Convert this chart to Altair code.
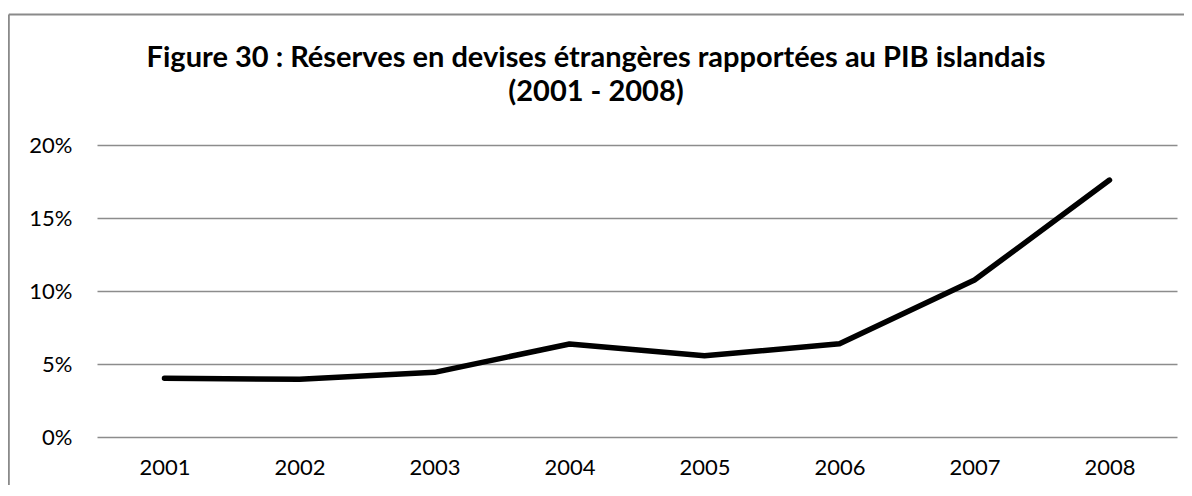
import altair as alt
import pandas as pd

years = ["2001", "2002", "2003", "2004", "2005", "2006", "2007", "2008"]
reserves = [0.0402, 0.0396, 0.0443, 0.0637, 0.0556, 0.0639, 0.1075, 0.1760]
y_ticks = [0, 0.05, 0.10, 0.15, 0.20]
title_lines = ["Figure 30 : Réserves en devises étrangères rapportées au PIB islandais", "(2001 - 2008)"]

df = pd.DataFrame({"year": years, "value": reserves})

W, H = 1080, 292
FONT = "Lato"

line = alt.Chart(df).mark_line(
    color="black", strokeWidth=5.5, strokeCap="round", strokeJoin="round"
).encode(
    x=alt.X(
        "year:O",
        scale=alt.Scale(type="point", padding=0.5),
        axis=alt.Axis(
            title=None, labelAngle=0, ticks=False, domain=False, grid=False,
            labelPadding=20, labelFontSize=22, labelColor="black", labelFont=FONT,
        ),
    ),
    y=alt.Y(
        "value:Q",
        scale=alt.Scale(domain=[0, 0.2]),
        axis=alt.Axis(
            title=None, values=y_ticks, format=".0%", ticks=False, domain=False,
            labelPadding=25, labelFontSize=22, labelColor="black", labelFont=FONT,
            grid=True, gridColor="#8c8c8c", gridWidth=1.5,
        ),
    ),
)

one = pd.DataFrame({"a": [0]})
left_border = alt.Chart(one).mark_rule(color="#8a8a8a", strokeWidth=2).encode(
    x=alt.value(-88.2), y=alt.value(-130.5), y2=alt.value(H + 48)
)
top_border = alt.Chart(one).mark_rule(color="#8a8a8a", strokeWidth=2).encode(
    x=alt.value(-88.2), x2=alt.value(W + 7), y=alt.value(-130.5)
)

title1 = alt.Chart(pd.DataFrame({"text": [title_lines[0]]})).mark_text(
    font=FONT, fontSize=29, fontWeight="bold", color="black", align="center", baseline="middle"
).encode(text="text:N", x=alt.value(499), y=alt.value(-87))
title2 = alt.Chart(pd.DataFrame({"text": [title_lines[1]]})).mark_text(
    font=FONT, fontSize=29, fontWeight="bold", color="black", align="center", baseline="middle"
).encode(text="text:N", x=alt.value(499), y=alt.value(-53))

chart = alt.layer(left_border, top_border, title1, title2, line).properties(
    width=W,
    height=H,
    autosize=alt.AutoSizeParams(type="none"),
    padding={"left": 89, "top": 137, "right": 7, "bottom": 48},
    background="white",
).configure_view(stroke=None)

chart.save("out.html", embed_options={"renderer": "svg", "actions": False})
